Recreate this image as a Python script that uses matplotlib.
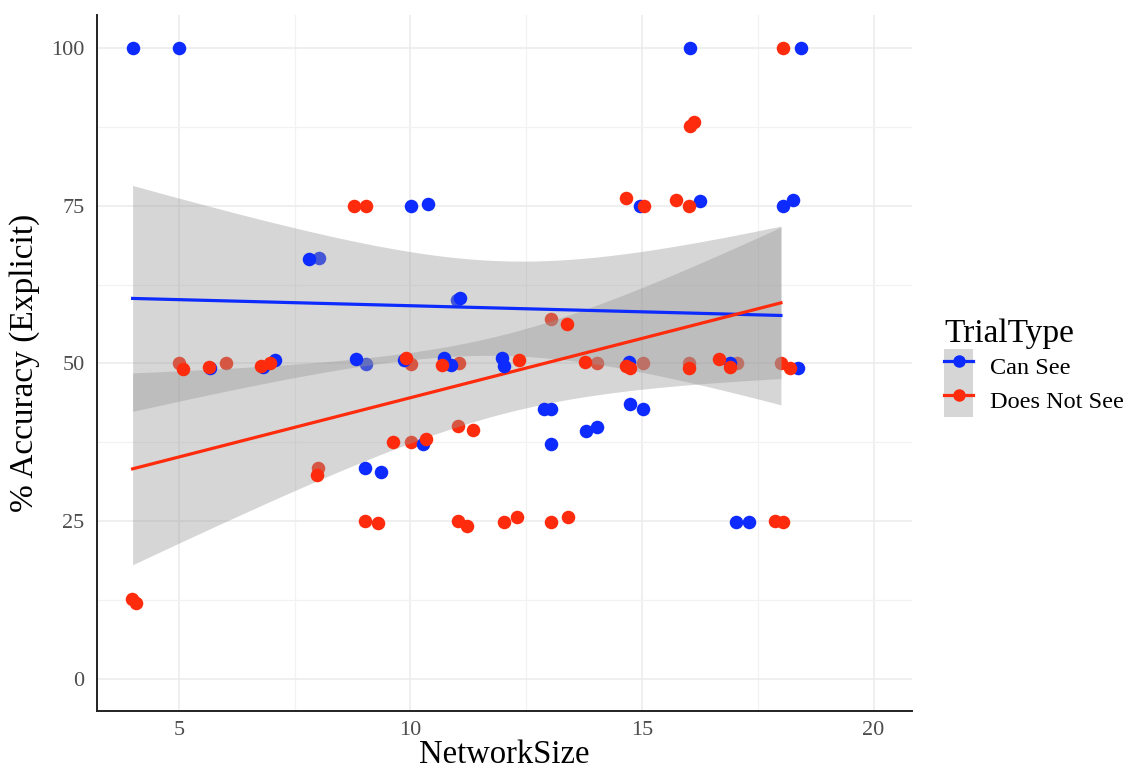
import numpy as np
import matplotlib
matplotlib.use("Agg")
import matplotlib.pyplot as plt
from matplotlib.lines import Line2D
from matplotlib.patches import Patch

plt.rcParams['font.family'] = ['Liberation Serif', 'DejaVu Serif']

# jittered points (drawn on top)
see_x = [4.0, 5.0, 16.04, 18.43, 10.01, 10.38, 14.96, 16.25, 18.04, 18.25,
         7.81, 11.07, 5.68, 6.82, 7.07, 8.82, 9.87, 10.73, 10.87, 11.98,
         12.03, 14.72, 16.89, 18.36, 12.88, 13.03, 13.8, 14.03, 14.73, 15.03,
         9.02, 9.36, 10.26, 17.03, 17.3]
see_y = [100, 100, 100, 100, 75, 75.3, 75, 75.8, 75, 75.9,
         66.6, 60.4, 49.3, 49.4, 50.6, 50.7, 50.6, 50.8, 49.7, 50.9,
         49.6, 50.3, 50.0, 49.2, 42.8, 37.3, 39.3, 40.0, 43.6, 42.8,
         33.4, 32.8, 37.3, 24.9, 24.8]

nosee_x = [18.04, 16.04, 16.12, 8.79, 9.03, 14.65, 15.04, 15.73, 16.02,
           13.37, 5.09, 5.64, 6.77, 6.97, 9.91, 10.68, 12.34, 13.77, 14.65,
           14.74, 16.02, 16.67, 16.89, 18.2, 9.63, 10.33, 11.34, 7.98,
           9.02, 9.29, 11.03, 11.21, 12.02, 12.31, 13.03, 13.41, 17.87, 18.04,
           3.99, 4.08]
nosee_y = [100, 87.6, 88.2, 75, 75, 76.2, 75, 75.9, 75,
           56.2, 49.1, 49.5, 49.6, 50.0, 50.8, 49.8, 50.6, 50.2, 49.6,
           49.2, 49.2, 50.7, 49.4, 49.3, 37.6, 38.1, 39.5, 32.4,
           25.0, 24.7, 25.0, 24.2, 24.9, 25.6, 24.9, 25.6, 25.1, 24.9,
           12.6, 12.1]

# raw (unjittered) points, drawn beneath the confidence bands
see_raw_x = [8.03, 11.0, 9.03, 13.03]
see_raw_y = [66.7, 60.0, 49.9, 42.8]
nosee_raw_x = [13.03, 5.0, 6.01, 10.02, 11.04, 14.02, 15.03, 16.02, 17.06, 18.01, 8.01, 10.01, 11.03]
nosee_raw_y = [57.1, 50.0, 50.0, 49.9, 50.0, 50.0, 50.0, 50.0, 50.0, 50.0, 33.5, 37.5, 40.1]

# linear fits: value at x=4 and x=18, CI half width at mean x and at x=4
fit_x = [4, 18]
x_mean = 12.05
see_fit = [60.3, 57.6]
see_half = [7.5, 17.9]
nosee_fit = [33.3, 59.6]
nosee_half = [6.25, 15.2]

blue = '#0D2BFF'
red = '#FF2B0D'

fig = plt.figure(figsize=(11.38, 7.71), dpi=100)
ax = fig.add_axes([0.0852, 0.0778, 0.7162, 0.9027])

ax.scatter(see_raw_x, see_raw_y, s=95, color=blue, linewidths=0, zorder=2)
ax.scatter(nosee_raw_x, nosee_raw_y, s=95, color=red, linewidths=0, zorder=2)

xs = np.linspace(fit_x[0], fit_x[1], 100)
for fit, half, col in [(see_fit, see_half, blue), (nosee_fit, nosee_half, red)]:
    line = np.interp(xs, fit_x, fit)
    h = np.sqrt(half[0]**2 + (half[1]**2 - half[0]**2) * (xs - x_mean)**2 / (fit_x[0] - x_mean)**2)
    ax.fill_between(xs, line - h, line + h, color='#999999', alpha=0.4, linewidth=0, zorder=3)
    ax.plot(xs, line, color=col, lw=2.3, zorder=4)

ax.scatter(see_x, see_y, s=95, color=blue, linewidths=0, zorder=5)
ax.scatter(nosee_x, nosee_y, s=95, color=red, linewidths=0, zorder=5)

ax.set_xlim(3.23, 20.83)
ax.set_ylim(-5.07, 105.2)
ax.set_xticks([5, 10, 15, 20])
ax.set_yticks([0, 25, 50, 75, 100])
ax.set_xticks([7.5, 12.5, 17.5], minor=True)
ax.set_yticks([12.5, 37.5, 62.5, 87.5], minor=True)
ax.grid(which='major', color='#EBEBEB', lw=1.1, zorder=0)
ax.grid(which='minor', color='#F2F2F2', lw=0.9, zorder=0)
ax.set_axisbelow(True)
ax.tick_params(which='both', length=0, labelsize=16, labelcolor='#4D4D4D')
ax.tick_params(axis='x', pad=7)
ax.tick_params(axis='y', pad=9)
for s in ['top', 'right']:
    ax.spines[s].set_visible(False)
for s in ['left', 'bottom']:
    ax.spines[s].set_linewidth(1.4)
    ax.spines[s].set_color('#222222')

ax.set_xlabel('NetworkSize', fontsize=23.5, labelpad=0)
ax.set_ylabel('% Accuracy (Explicit)', fontsize=24, labelpad=8)

handles = []
for col in [blue, red]:
    handles.append((Patch(facecolor='#D6D6D6', linewidth=0),
                    Line2D([], [], color=col, lw=2.3, marker='o', ms=9, markeredgewidth=0)))
fig.legend(handles, ['Can See', 'Does Not See'], title='TrialType',
           loc='center left', bbox_to_anchor=(0.8125, 0.523), frameon=False,
           fontsize=17.5, title_fontsize=24, alignment='left',
           handlelength=1.2, handleheight=1.78, labelspacing=0,
           handletextpad=0.7, borderpad=0.3)

fig.savefig('out.png', dpi=100)
